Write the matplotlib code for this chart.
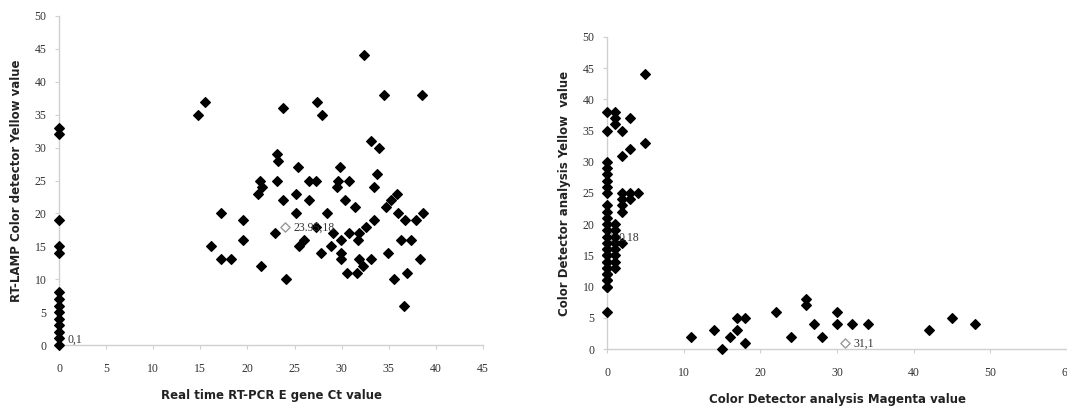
import matplotlib
matplotlib.use("Agg")
import matplotlib.pyplot as plt

# ── Data ────────────────────────────────────────────────────────────────────

# left panel: RT-PCR Ct value vs RT-LAMP yellow value
ct_x = [0, 0, 0, 0, 0, 0, 0, 0, 0, 0, 0, 0, 0, 0,
        14.8, 15.5, 16.1, 17.2, 17.2, 18.3, 19.5, 19.5, 21.4, 21.3, 21.5, 21.1,
        22.9, 23.1, 23.2, 23.1, 23.8, 23.8, 24.1, 25.2, 25.2, 25.4, 25.5, 26.0,
        26.5, 26.5, 27.3, 27.4, 27.9, 27.3, 27.8, 28.4, 28.9, 29.1, 29.8, 29.6,
        29.5, 29.9, 29.9, 29.9, 30.4, 30.8, 30.6, 30.8, 31.4, 31.6, 31.7, 31.8,
        31.8, 32.3, 32.4, 32.6, 33.1, 33.1, 33.4, 33.4, 33.8, 34.0, 34.5, 34.7,
        34.9, 35.2, 35.5, 35.9, 36.0, 36.3, 36.6, 36.7, 36.9, 37.4, 37.9, 38.3,
        38.5, 38.6]
lamp_y = [0, 1, 2, 3, 4, 5, 6, 7, 8, 14, 15, 19, 32, 33,
          35, 37, 15, 20, 13, 13, 19, 16, 12, 25, 24, 23,
          17, 29, 28, 25, 36, 22, 10, 23, 20, 27, 15, 16,
          25, 22, 25, 37, 35, 18, 14, 20, 15, 17, 27, 25,
          24, 16, 14, 13, 22, 17, 11, 25, 21, 11, 16, 17,
          13, 12, 44, 18, 31, 13, 24, 19, 26, 30, 38, 21,
          14, 22, 10, 23, 20, 16, 6, 19, 11, 16, 19, 13,
          38, 20]
left_marks = [(0, 1, "0,1"), (23.95, 18, "23.95,18")]

# right panel: magenta value vs yellow value
mag_x = [0] * 21 + [0] * 6 + [0, 0, 0] + \
        [1] * 8 + [1, 1, 1] + \
        [2, 2, 2, 2, 2, 2, 2] + [3, 3, 3, 3] + [4] + [5, 5] + \
        [11, 14, 15, 16, 17, 17, 18, 18, 22, 24, 26, 26, 27, 28, 30, 30,
         32, 34, 42, 45, 48]
yel_y = list(range(10, 24)) + [10, 11, 12, 13, 14, 15, 16] + \
        list(range(25, 31)) + [35, 38, 6] + \
        list(range(13, 21)) + [36, 37, 38] + \
        [35, 31, 25, 24, 23, 22, 17] + [37, 32, 25, 24] + [25] + [44, 33] + \
        [2, 3, 0, 2, 3, 5, 5, 1, 6, 2, 8, 7, 4, 2, 6, 4,
         4, 4, 3, 5, 4]
right_marks = [(0.4, 18, "0,18"), (31, 1, "31,1")]

# ── Plot ────────────────────────────────────────────────────────────────────

fig = plt.figure(figsize=(10.67, 4.07), dpi=100)
ax1 = fig.add_axes([0.0553, 0.1523, 0.3974, 0.8084])
ax2 = fig.add_axes([0.5689, 0.1425, 0.4311, 0.7666])

lab_font = dict(family="DejaVu Sans", size=8.5, weight="bold", color="#222222")

def style(ax, xmax, xstep):
    ax.set_xlim(0, xmax)
    ax.set_ylim(0, 50)
    ax.set_xticks(range(0, xmax + 1, xstep))
    ax.set_yticks(range(0, 51, 5))
    for s in ("top", "right"):
        ax.spines[s].set_visible(False)
    for s in ("left", "bottom"):
        ax.spines[s].set_color("#d0d0d0")
        ax.spines[s].set_linewidth(1.0)
    ax.tick_params(length=3, color="#d0d0d0", pad=6)
    ax.tick_params(axis="x", pad=10)
    for lab in ax.get_xticklabels() + ax.get_yticklabels():
        lab.set_fontfamily("Liberation Serif")
        lab.set_fontsize(8.5)
        lab.set_color("#333333")

def draw(ax, xs, ys, marks):
    # mean markers sit under the black points, as in the source chart
    for mx, my, txt in marks:
        ax.scatter([mx], [my], marker="D", s=22, facecolor="white",
                   edgecolor="#999999", clip_on=False, zorder=2)
        ax.annotate(txt, (mx, my), xytext=(6, -3), textcoords="offset points",
                    fontfamily="Liberation Serif", fontsize=8.5, color="#333333",
                    zorder=5)
    ax.scatter(xs, ys, marker="D", s=24, color="black", clip_on=False, zorder=3)

draw(ax1, ct_x, lamp_y, left_marks)
style(ax1, 45, 5)
ax1.set_xlabel("Real time RT-PCR E gene Ct value", labelpad=10, **lab_font)
ax1.set_ylabel("RT-LAMP Color detector Yellow value", labelpad=8, **lab_font)

draw(ax2, mag_x, yel_y, right_marks)
style(ax2, 60, 10)
ax2.set_xlabel("Color Detector analysis Magenta value", labelpad=10, **lab_font)
ax2.set_ylabel("Color Detector analysis Yellow  value", labelpad=8, **lab_font)

fig.savefig("out.png", dpi=100)
